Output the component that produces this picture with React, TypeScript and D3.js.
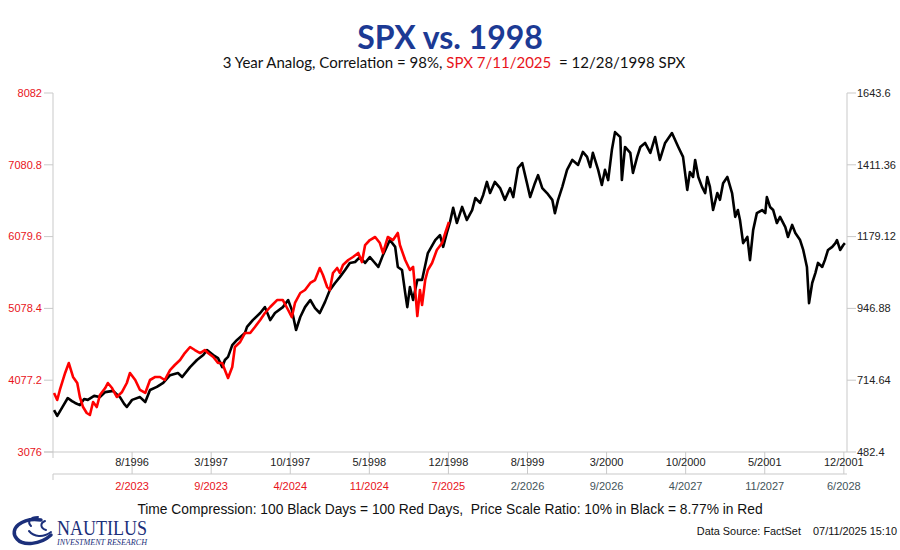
import React from "react";
import * as d3 from "d3";

// Black: S&P 500 1996-2001 (trading-day index, price) — right axis
const blackSeries: [number, number][] = [
  [2, 618], [8, 599], [17, 625], [28, 657], [36, 647], [42, 641], [51, 634], [59, 654], [66, 651], [78, 664],
  [89, 660], [99, 676], [114, 680], [127, 660], [135, 638], [140, 628], [150, 651], [165, 660], [175, 644], [184, 683],
  [197, 693], [209, 706], [222, 731], [237, 738], [245, 725], [260, 757], [273, 780], [285, 796], [292, 812], [304, 796],
  [313, 786], [321, 757], [326, 780], [332, 790], [340, 828], [349, 845], [364, 867], [368, 887], [379, 909], [393, 932],
  [402, 951], [412, 909], [421, 932], [436, 951], [446, 974], [453, 942], [461, 877], [469, 919], [478, 951], [488, 974],
  [497, 948], [506, 932], [516, 968], [525, 1006], [535, 1029], [544, 1048], [554, 1071], [563, 1094], [573, 1097], [582, 1113],
  [592, 1094], [601, 1113], [609, 1097], [617, 1081], [626, 1120], [639, 1168], [649, 1146], [654, 1081], [662, 1071], [668, 997],
  [672, 951], [677, 1016], [683, 974], [691, 1039], [700, 1039], [711, 1126], [725, 1168], [734, 1184], [740, 1146], [747, 1191],
  [753, 1226], [759, 1272], [766, 1223], [776, 1275], [785, 1233], [795, 1265], [801, 1304], [810, 1288], [816, 1314], [823, 1356],
  [829, 1320], [838, 1356], [848, 1336], [857, 1298], [867, 1336], [873, 1307], [882, 1401], [890, 1417], [899, 1352], [905, 1307],
  [914, 1352], [920, 1378], [928, 1336], [937, 1320], [947, 1298], [952, 1255], [958, 1298], [966, 1340], [975, 1395], [985, 1427],
  [996, 1411], [1005, 1453], [1013, 1437], [1019, 1404], [1024, 1450], [1034, 1395], [1041, 1346], [1047, 1395], [1053, 1362], [1060, 1459],
  [1066, 1517], [1076, 1501], [1079, 1362], [1085, 1469], [1095, 1450], [1100, 1385], [1108, 1437], [1114, 1469], [1123, 1482], [1133, 1450],
  [1142, 1501], [1151, 1427], [1161, 1482], [1174, 1514], [1186, 1469], [1195, 1437], [1203, 1330], [1208, 1388], [1214, 1372], [1218, 1427],
  [1224, 1372], [1231, 1340], [1237, 1320], [1241, 1372], [1246, 1340], [1252, 1265], [1260, 1320], [1265, 1298], [1271, 1352], [1279, 1372],
  [1288, 1320], [1294, 1243], [1299, 1265], [1303, 1233], [1309, 1158], [1317, 1178], [1322, 1103], [1328, 1200], [1335, 1255], [1345, 1265],
  [1351, 1255], [1354, 1307], [1360, 1275], [1366, 1265], [1373, 1223], [1379, 1243], [1389, 1210], [1394, 1178], [1402, 1217], [1408, 1191],
  [1417, 1168], [1423, 1136], [1430, 1081], [1434, 964], [1440, 1029], [1446, 1061], [1451, 1094], [1459, 1081], [1464, 1103], [1470, 1136],
  [1478, 1146], [1484, 1158], [1487, 1168], [1493, 1136], [1499, 1152], [1502, 1158],
];

// Red: S&P 500 2022-2025 (trading-day index, price) — left axis
const redSeries: [number, number][] = [
  [2, 3899], [8, 3801], [13, 3941], [23, 4178], [30, 4317], [38, 4122], [46, 4038], [51, 3843], [57, 3703], [64, 3620],
  [70, 3592], [76, 3773], [83, 3703], [89, 3871], [99, 3968], [104, 4038], [112, 3968], [121, 3843], [131, 3913], [140, 4038],
  [146, 4178], [156, 4080], [165, 3941], [175, 3899], [184, 4080], [194, 4122], [203, 4122], [212, 4080], [222, 4219], [231, 4289],
  [241, 4359], [250, 4456], [260, 4540], [269, 4498], [279, 4456], [288, 4498], [294, 4456], [304, 4401], [313, 4317], [321, 4317],
  [326, 4219], [332, 4108], [340, 4261], [345, 4540], [355, 4610], [364, 4735], [374, 4735], [383, 4819], [393, 4917], [402, 5014],
  [412, 5098], [425, 5195], [436, 5195], [446, 5056], [453, 4958], [459, 5154], [469, 5293], [478, 5335], [488, 5433], [497, 5474],
  [506, 5642], [512, 5544], [520, 5377], [525, 5335], [531, 5572], [539, 5642], [544, 5572], [550, 5684], [560, 5753], [569, 5795],
  [579, 5851], [586, 5725], [592, 5962], [601, 6032], [611, 6074], [620, 5990], [626, 5851], [635, 6074], [645, 6032], [654, 6130],
  [658, 5962], [668, 5753], [677, 5614], [683, 5656], [687, 5335], [691, 4972], [696, 5335], [700, 5126], [706, 5474], [711, 5614],
  [719, 5711], [728, 5893], [738, 5990], [744, 6130], [751, 6283],
];

const leftTicks = [3076, 4077.2, 5078.4, 6079.6, 7080.8, 8082];
const rightTicks = [482.4, 714.64, 946.88, 1179.12, 1411.36, 1643.6];
const tickDays = [150, 300, 450, 600, 750, 900, 1050, 1200, 1350, 1500];
const blackDateLabels = ["8/1996", "3/1997", "10/1997", "5/1998", "12/1998", "8/1999", "3/2000", "10/2000", "5/2001", "12/2001"];
const redDateLabels = ["2/2023", "9/2023", "4/2024", "11/2024", "7/2025", "2/2026", "9/2026", "4/2027", "11/2027", "6/2028"];

const W = 900;
const H = 550;
const PL = 53, PR = 847, PT = 93, PB = 452;
const RED = "#ff0000";
const RED_TEXT = "#e8141b";
const AXIS = "#c9c9c9";
const ARIAL = "'Liberation Sans', Arial, sans-serif";
const CALIBRI = "Lato, 'Open Sans', sans-serif";

export default function App() {
  const x = d3.scaleLinear().domain([0, 1506]).range([PL, PR]);
  const yL = d3.scaleLinear().domain([3076, 8082]).range([PB, PT]);
  const yR = d3.scaleLinear().domain([482.4, 1643.6]).range([PB, PT]);
  const lastRedDay = redSeries[redSeries.length - 1][0];

  const blackLine = d3.line<[number, number]>().x((d) => x(d[0])).y((d) => yR(d[1]));
  const redLine = d3.line<[number, number]>().x((d) => x(d[0])).y((d) => yL(d[1]));

  const ROW2 = 474;

  return (
    <svg width={W} height={H} viewBox={`0 0 ${W} ${H}`} style={{ position: "fixed", left: 0, top: 0, background: "#fff" }}>
      <rect x={0} y={0} width={W} height={H} fill="#fff" />
      {/* Title */}
      <text x={450} y={49} textAnchor="middle" fontFamily={CALIBRI} fontWeight={700} fontSize={32} fill="#1c3a94">
        SPX vs. 1998
      </text>
      <text x={454} y={68} textAnchor="middle" fontFamily={CALIBRI} fontSize={15} fill="#111" style={{ whiteSpace: "pre" }}>
        <tspan>3 Year Analog, Correlation = 98%, </tspan>
        <tspan fill={RED_TEXT}>SPX 7/11/2025</tspan>
        <tspan>{"  = 12/28/1998 SPX"}</tspan>
      </text>

      {/* Left axis */}
      <line x1={PL} x2={PL} y1={PT} y2={PB + 6} stroke={AXIS} strokeWidth={1} />
      {leftTicks.map((t) => (
        <g key={"l" + t}>
          <line x1={PL - 9} x2={PL} y1={yL(t)} y2={yL(t)} stroke={AXIS} />
          <text x={PL - 11} y={yL(t)} dy="0.35em" textAnchor="end" fontFamily={ARIAL} fontSize={11} fill={RED_TEXT}>
            {String(t)}
          </text>
        </g>
      ))}

      {/* Right axis */}
      <line x1={PR} x2={PR} y1={PT} y2={PB} stroke={AXIS} strokeWidth={1} />
      {rightTicks.map((t) => (
        <g key={"r" + t}>
          <line x1={PR} x2={PR + 9} y1={yR(t)} y2={yR(t)} stroke={AXIS} />
          <text x={PR + 10} y={yR(t)} dy="0.35em" textAnchor="start" fontFamily={ARIAL} fontSize={11} fill="#222">
            {String(t)}
          </text>
        </g>
      ))}

      {/* Bottom axes */}
      <line x1={PL - 9} x2={PR} y1={PB} y2={PB} stroke={AXIS} />
      <line x1={PL} x2={PR} y1={ROW2} y2={ROW2} stroke={AXIS} />
      <line x1={PL} x2={PL} y1={ROW2} y2={ROW2 + 6} stroke={AXIS} />
      {tickDays.map((d, i) => (
        <g key={"t" + d}>
          <line x1={x(d)} x2={x(d)} y1={PB} y2={ROW2} stroke={AXIS} />
          <text x={x(d)} y={PB + 10} dy="0.35em" textAnchor="middle" fontFamily={ARIAL} fontSize={11} fill="#222">
            {blackDateLabels[i]}
          </text>
          <text x={x(d)} y={ROW2 + 12} dy="0.35em" textAnchor="middle" fontFamily={ARIAL} fontSize={11}
            fill={d <= lastRedDay ? RED_TEXT : "#44545a"}>
            {redDateLabels[i]}
          </text>
        </g>
      ))}

      {/* Series */}
      <path d={blackLine(blackSeries) || ""} fill="none" stroke="#000" strokeWidth={2.6} strokeLinejoin="round" />
      <path d={redLine(redSeries) || ""} fill="none" stroke={RED} strokeWidth={2.6} strokeLinejoin="round" />

      {/* Footer notes */}
      <text x={450} y={509} dy="0.35em" textAnchor="middle" fontFamily={ARIAL} fontSize={13.8} fill="#111" style={{ whiteSpace: "pre" }}>
        {"Time Compression: 100 Black Days = 100 Red Days,  Price Scale Ratio: 10% in Black = 8.77% in Red"}
      </text>
      <text x={897} y={531} dy="0.35em" textAnchor="end" fontFamily={ARIAL} fontSize={10.9} fill="#111" style={{ whiteSpace: "pre" }}>
        {"Data Source: FactSet    07/11/2025 15:10"}
      </text>

      {/* Logo */}
      <g fill="none" stroke="#1b2f7a" strokeLinecap="round">
        <path d="M 41 520 C 22 517, 8 529, 17 539 C 23 546, 40 545, 51 535" strokeWidth={3.5} />
        <path d="M 38 517 C 30 517, 27 522, 31 526" strokeWidth={2} />
        <path d="M 45 521 C 40 523, 40 528, 46 530" strokeWidth={2} />
        <path d="M 29 531 C 34 537, 43 538, 51 532" strokeWidth={2} />
      </g>
      <text x={57} y={535} fontFamily="'Liberation Serif', 'Times New Roman', serif" fontSize={20} fill="#1b2f7a"
        textLength={90} lengthAdjust="spacingAndGlyphs">
        NAUTILUS
      </text>
      <text x={57} y={545} fontFamily="'Liberation Serif', 'Times New Roman', serif" fontStyle="italic" fontSize={8} fill="#1b2f7a"
        textLength={90} lengthAdjust="spacingAndGlyphs">
        INVESTMENT RESEARCH
      </text>
    </svg>
  );
}
